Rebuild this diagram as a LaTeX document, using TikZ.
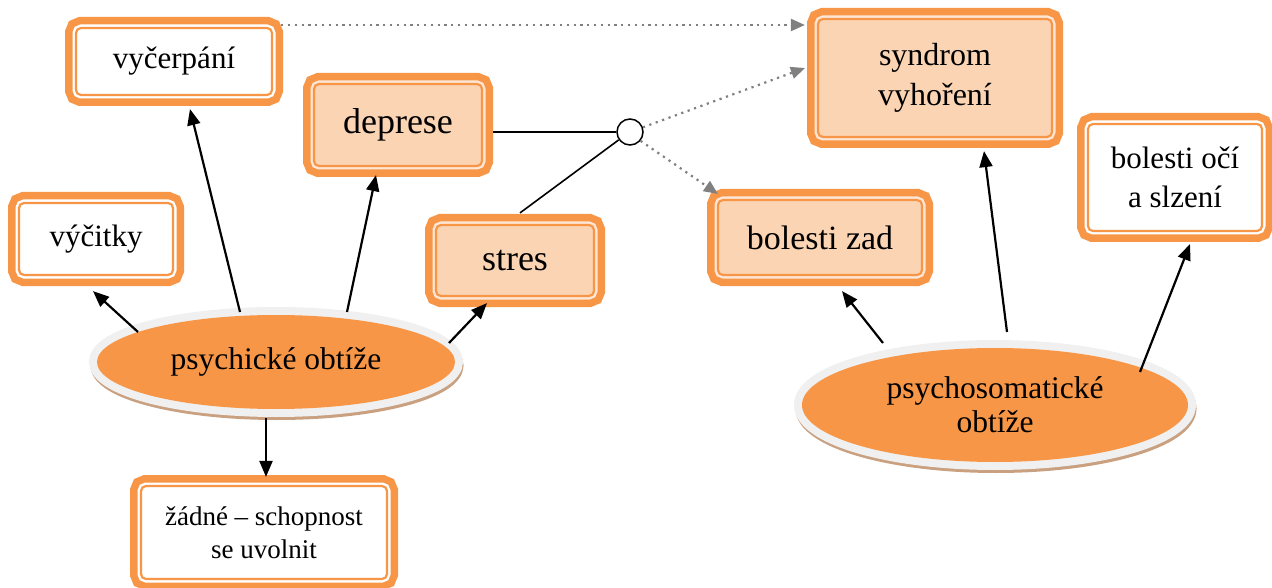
\documentclass[tikz,border=0pt]{standalone}
\usepackage{fontspec}
\setmainfont{Liberation Serif}
\usetikzlibrary{shapes.geometric,arrows.meta,calc}
\definecolor{ora}{HTML}{F79646}
\definecolor{peach}{HTML}{FBD4B4}
\definecolor{peachgap}{HTML}{FDE6D6}
\definecolor{rim}{HTML}{F0F0F0}
\definecolor{shade}{HTML}{C9A080}
\definecolor{dotgray}{HTML}{808080}
\newcommand\fsz[2]{\fontsize{#1}{#2}\selectfont}

\begin{document}
\begin{tikzpicture}[x=1pt,y=-1pt,
  framebox/.style 2 args={rectangle, rounded corners=5pt, draw=ora, line width=2.2pt,
    fill=#1, align=center, inner sep=0pt, text=black,
    preaction={draw=ora, line width=22pt},
    preaction={draw=#2, line width=7pt}},
  whitebox/.style={framebox={white}{white}},
  peachbox/.style={framebox={peach}{peachgap}},
  blob/.style={ellipse, fill=ora, inner sep=0pt, align=center,
    preaction={draw=shade, line width=15pt, transform canvas={xshift=1pt,yshift=-3.5pt}},
    preaction={draw=rim, line width=16pt}},
  junction/.style={circle, draw, line width=1.5pt, fill=white, minimum size=26pt, inner sep=0pt},
  arr/.style={line width=2.2pt, -{Triangle[length=16pt,width=13pt]}},
  dots/.style={dotgray, line width=2.2pt, dash pattern=on 2.2pt off 4.6pt,
    -{Triangle[length=14pt,width=12pt]}},
  link/.style={line width=1.6pt}]

\useasboundingbox (0,0) rectangle (1272,588);

% framed boxes
\node[whitebox, minimum width=196, minimum height=67, font=\fsz{31}{38}] (vyc) at (174,61.5) {vyčerpání};
\node[whitebox, minimum width=154, minimum height=72, font=\fsz{31}{38}] (vyt) at (96,239) {výčitky};
\node[peachbox, minimum width=168, minimum height=82, font=\fsz{36}{40}] (dep) at (398,125) {deprese};
\node[peachbox, minimum width=158, minimum height=71, font=\fsz{36}{40}] (str) at (515,260.5) {stres};
\node[peachbox, minimum width=204, minimum height=75, font=\fsz{34}{40}] (bz) at (820,237.5) {bolesti zad};
\node[peachbox, minimum width=234, minimum height=118, font=\fsz{32}{40}] (syn) at (935,78) {syndrom\\vyhoření};
\node[whitebox, minimum width=174, minimum height=107, font=\fsz{31}{39}] (boc) at (1175,177.5) {bolesti očí\\a slzení};
\node[whitebox, minimum width=246, minimum height=93, font=\fsz{27}{33}] (zad) at (264,532.5) {žádné – schopnost\\se uvolnit};

% central ellipses
\node[blob, minimum width=358, minimum height=94, font=\fsz{31.5}{36}] (pso) at (276,362) {psychické obtíže};
\node[blob, minimum width=386, minimum height=114, font=\fsz{31.5}{34}] (psm) at (995,405) {psychosomatické\\obtíže};

% junction
\node[junction] (cir) at (630,132) {};

% arrows from the ellipses
\draw[arr] ($(pso.center)+(-138,-30)$) -- ($(vyt.south)+(-3,15)$);
\draw[arr] ($(pso.center)+(-36,-50)$) -- ($(vyc.south)+(16,13)$);
\draw[arr] ($(pso.center)+(71,-50)$) -- ($(dep.south)+(-22,8)$);
\draw[arr] ($(pso.center)+(173,-19)$) -- ($(str.south)+(-28,6)$);
\draw[arr] ($(pso.center)+(-10,56)$) -- ($(zad.north)+(2,-8)$);
\draw[arr] ($(psm.center)+(-112,-62)$) -- ($(bz.south)+(22,15)$);
\draw[arr] ($(psm.center)+(12,-73)$) -- ($(syn.south)+(49,13)$);
\draw[arr] ($(psm.center)+(145,-33)$) -- ($(boc.south)+(15,12)$);

% links into the junction
\draw[link] ($(dep.east)+(10,7)$) -- (cir.west);
\draw[link] ($(str.north)+(5,-11)$) -- (cir.215);

% dotted consequences
\draw[dots] ($(vyc.east)+(8,-36.5)$) -- ($(syn.west)+(-12,-53)$);
\draw[dots] (cir.20) -- ($(syn.west)+(-12,-10)$);
\draw[dots] (cir.-40) -- ($(bz.north west)+(1,-5)$);
\end{tikzpicture}
\end{document}
